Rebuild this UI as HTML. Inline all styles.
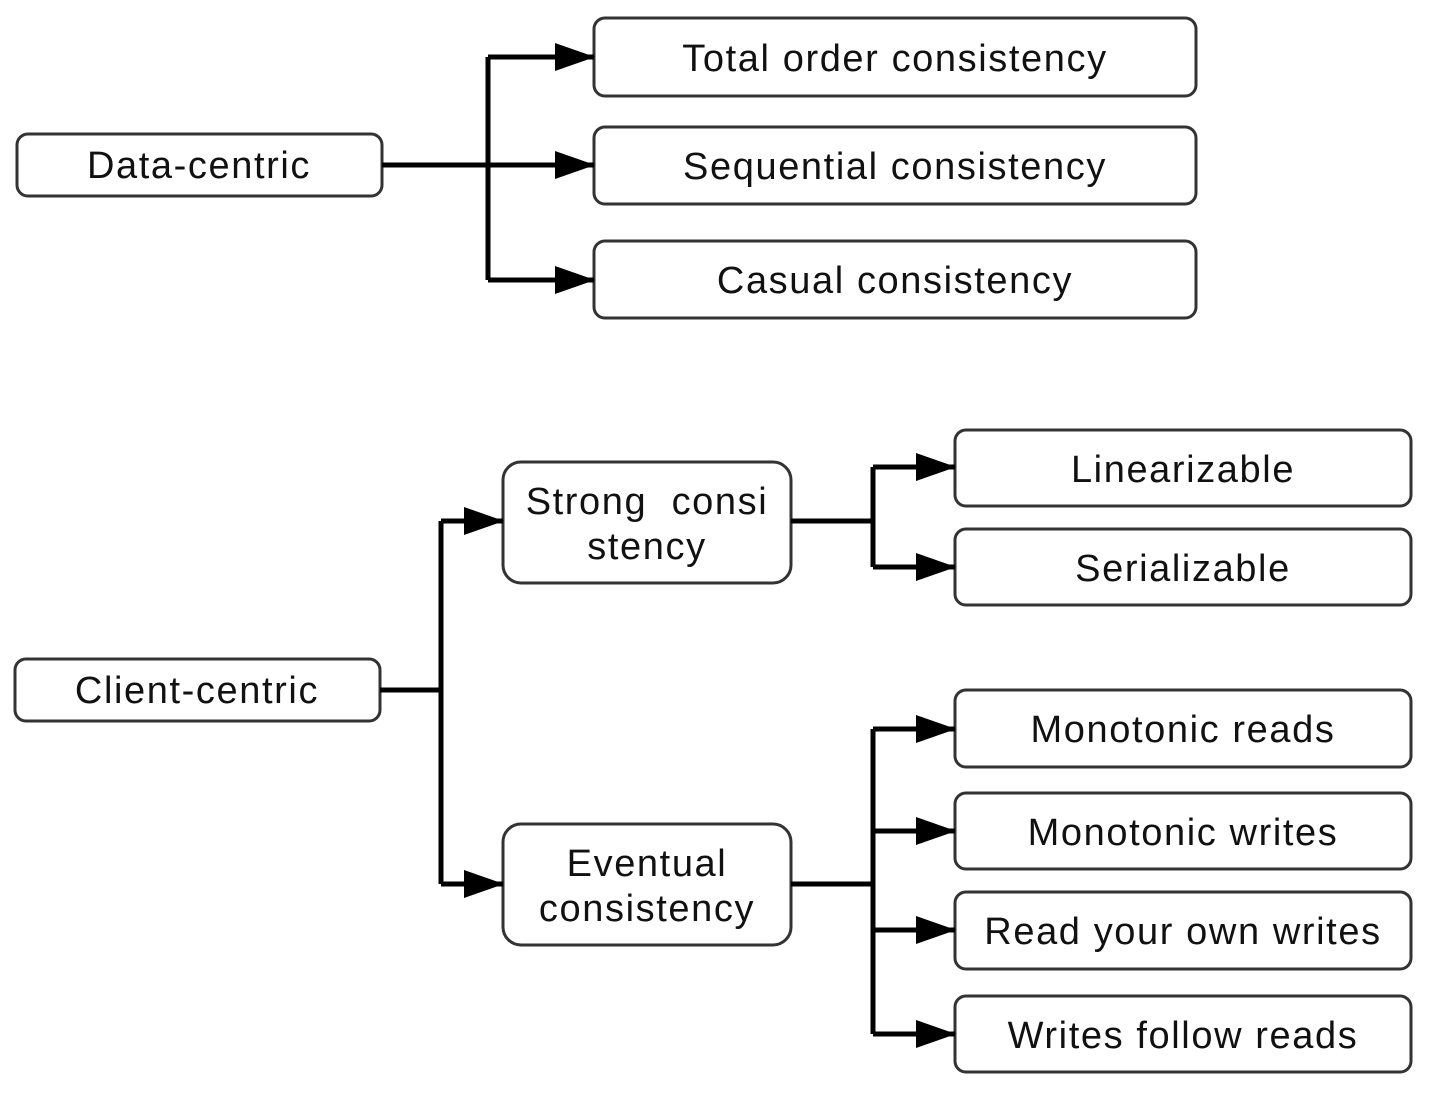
<!DOCTYPE html>
<html><head><meta charset="utf-8"><style>
body{margin:0;background:#fff;width:1446px;height:1106px;overflow:hidden}
svg text{font-family:"Liberation Sans",sans-serif;font-size:38px;fill:#111;letter-spacing:1.6px}
</style></head><body>
<svg width="1446" height="1106" xmlns="http://www.w3.org/2000/svg">
<defs><marker id="a" markerWidth="40" markerHeight="30" refX="39" refY="14" orient="auto" markerUnits="userSpaceOnUse"><path d="M0,0 L40,14 L0,28 Z" fill="#000"/></marker></defs>
<g fill="#fff" stroke="#333" stroke-width="3">
<rect x="17" y="134" width="365" height="62" rx="11"/>
<rect x="594" y="18" width="602" height="78" rx="11"/>
<rect x="594" y="127" width="602" height="77" rx="11"/>
<rect x="594" y="241" width="602" height="77" rx="11"/>
<rect x="15" y="659" width="365" height="62" rx="11"/>
<rect x="503" y="462" width="288" height="121" rx="18"/>
<rect x="503" y="824" width="288" height="121" rx="18"/>
<rect x="955" y="430" width="456" height="76" rx="11"/>
<rect x="955" y="529" width="456" height="76" rx="11"/>
<rect x="955" y="690" width="456" height="77" rx="11"/>
<rect x="955" y="793" width="456" height="76" rx="11"/>
<rect x="955" y="892" width="456" height="77" rx="11"/>
<rect x="955" y="996" width="456" height="76" rx="11"/>
</g>
<g stroke="#000" stroke-width="5" fill="none">
<path d="M382,165 H488"/>
<path d="M488,57 V280"/>
<path d="M488,57 H594" marker-end="url(#a)"/>
<path d="M488,165 H594" marker-end="url(#a)"/>
<path d="M488,280 H594" marker-end="url(#a)"/>
<path d="M380,690 H441"/>
<path d="M441,521 V884"/>
<path d="M441,521 H503" marker-end="url(#a)"/>
<path d="M441,884 H503" marker-end="url(#a)"/>
<path d="M791,521 H873"/>
<path d="M873,467 V567"/>
<path d="M873,467 H955" marker-end="url(#a)"/>
<path d="M873,567 H955" marker-end="url(#a)"/>
<path d="M791,884 H873"/>
<path d="M873,729 V1034"/>
<path d="M873,729 H955" marker-end="url(#a)"/>
<path d="M873,831 H955" marker-end="url(#a)"/>
<path d="M873,930 H955" marker-end="url(#a)"/>
<path d="M873,1034 H955" marker-end="url(#a)"/>
</g>
<g text-anchor="middle">
<text x="199" y="178">Data-centric</text>
<text x="895" y="71">Total order consistency</text>
<text x="895" y="179">Sequential consistency</text>
<text x="895" y="293">Casual consistency</text>
<text x="197" y="703">Client-centric</text>
<text x="647" y="514">Strong&#160;&#160;consi</text>
<text x="647" y="559">stency</text>
<text x="647" y="876">Eventual</text>
<text x="647" y="921">consistency</text>
<text x="1183" y="482">Linearizable</text>
<text x="1183" y="581">Serializable</text>
<text x="1183" y="742">Monotonic reads</text>
<text x="1183" y="845">Monotonic writes</text>
<text x="1183" y="944">Read your own writes</text>
<text x="1183" y="1048">Writes follow reads</text>
</g>
</svg>
</body></html>
